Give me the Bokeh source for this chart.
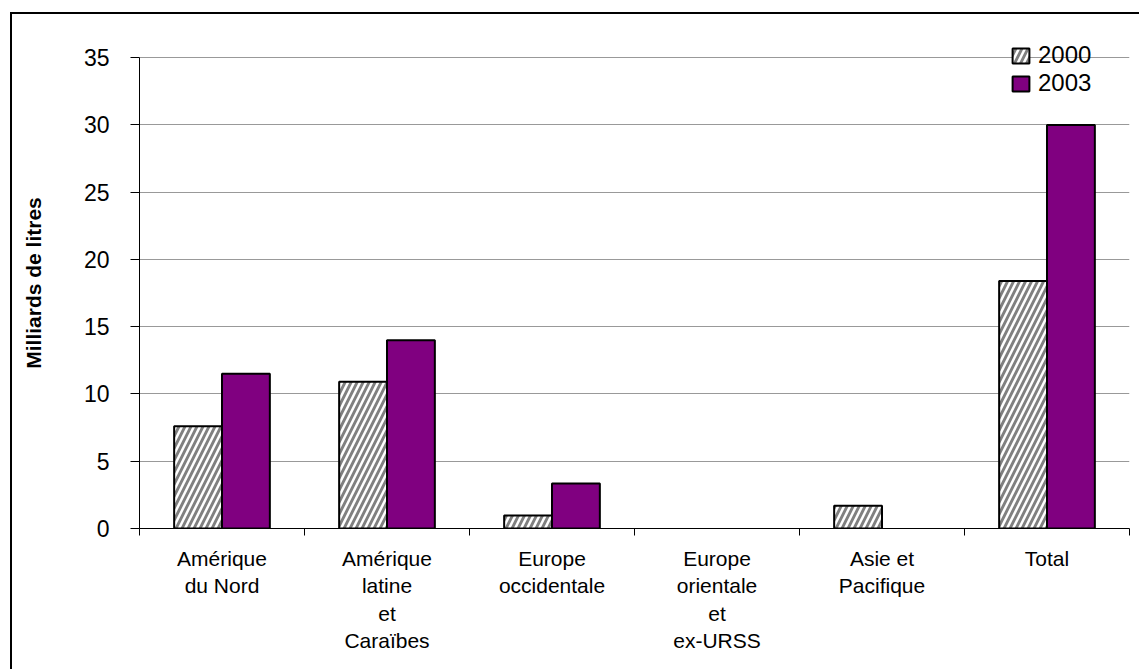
from bokeh.plotting import figure
from bokeh.models import ColumnDataSource, Range1d, FixedTicker
from bokeh.transform import dodge
from bokeh.embed import file_html
from bokeh.resources import INLINE

categories = ["Amérique\ndu Nord", "Amérique\nlatine\net\nCaraïbes", "Europe\noccidentale",
              "Europe\norientale\net\nex-URSS", "Asie et\nPacifique", "Total"]
values_2000 = [7.6, 10.9, 0.97, 0.0, 1.7, 18.4]
values_2003 = [11.5, 14.0, 3.35, 0.0, 0.0, 30.0]
y_ticks = [0, 5, 10, 15, 20, 25, 30, 35]

pos = [i + 0.5 for i in range(len(categories))]
src = ColumnDataSource(dict(
    x=pos, v2000=values_2000, v2003=values_2003,
    a2000=[1.0 if v > 0 else 0.0 for v in values_2000],
    a2003=[1.0 if v > 0 else 0.0 for v in values_2003],
))

FONT = "Liberation Sans"
p = figure(width=1129, height=657, output_backend="svg", toolbar_location=None,
           x_range=Range1d(0, len(categories)), y_range=Range1d(0, 36.5),
           min_border_left=127, min_border_right=12, min_border_top=23, min_border_bottom=143,
           margin=(12, 0, 0, 10))
p.styles = {"border-left": "2px solid black", "border-top": "2px solid black"}
p.outline_line_color = None
p.background_fill_color = "white"

bw = 0.29
p.vbar(x=dodge("x", -bw / 2, range=p.x_range), top="v2000", width=bw, source=src,
       fill_color="#808080", hatch_pattern="/", hatch_color="white", hatch_scale=12,
       hatch_weight=2.5, line_color="black", line_alpha="a2000", line_width=2,
       legend_label="2000")
p.vbar(x=dodge("x", bw / 2, range=p.x_range), top="v2003", width=bw, source=src,
       fill_color="#800080", line_color="black", line_alpha="a2003", line_width=2,
       legend_label="2003")

# y axis
p.yaxis.ticker = FixedTicker(ticks=y_ticks)
p.yaxis.bounds = (0, 35)
p.yaxis.axis_label = "Milliards de litres"
p.yaxis.axis_label_text_font = FONT
p.yaxis.axis_label_text_font_style = "bold"
p.yaxis.axis_label_text_font_size = "21px"
p.yaxis.axis_label_text_color = "black"
p.yaxis.axis_label_standoff = 36
p.yaxis.major_label_text_font = FONT
p.yaxis.major_label_text_font_size = "23px"
p.yaxis.major_label_text_color = "black"
p.yaxis.major_label_standoff = 21
p.yaxis.major_tick_out = 9
p.yaxis.major_tick_in = 0
p.yaxis.minor_tick_line_color = None
p.yaxis.axis_line_color = "black"

# x axis
p.xaxis.ticker = FixedTicker(ticks=pos, minor_ticks=list(range(len(categories) + 1)))
p.xaxis.major_label_overrides = {x: c for x, c in zip(pos, categories)}
p.xaxis.major_label_text_font = FONT
p.xaxis.major_label_text_font_size = "21px"
p.xaxis.major_label_text_color = "black"
p.xaxis.major_label_standoff = 11
p.xaxis.major_tick_line_color = None
p.xaxis.minor_tick_out = 7
p.xaxis.minor_tick_in = 0
p.xaxis.minor_tick_line_color = "black"
p.xaxis.axis_line_color = "black"

p.xgrid.grid_line_color = None
p.ygrid.grid_line_color = "#999999"

lg = p.legend[0]
lg.location = (871, 431)
lg.label_text_font = FONT
lg.label_text_font_size = "24px"
lg.label_text_color = "black"
lg.glyph_width = 21
lg.glyph_height = 19
lg.spacing = 0
lg.padding = 0
lg.margin = 0
lg.label_standoff = 7
lg.border_line_alpha = 0
lg.background_fill_alpha = 0

open("out.html", "w").write(file_html(p, INLINE))
